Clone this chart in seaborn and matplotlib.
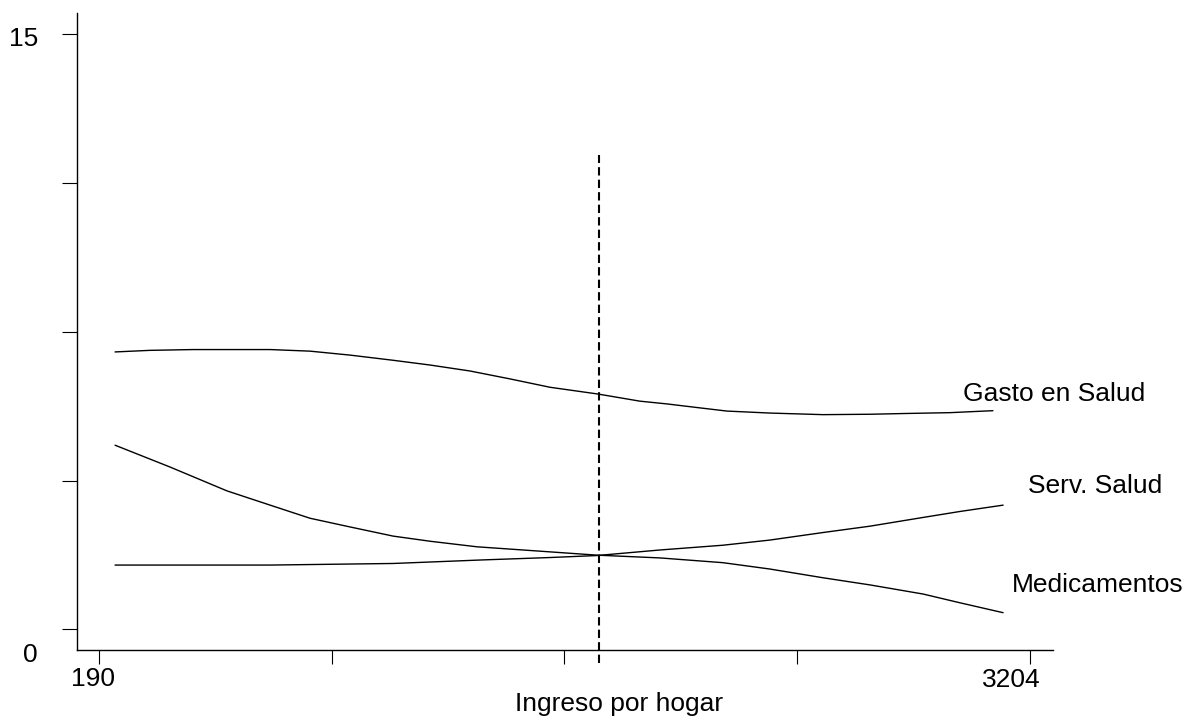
import pandas as pd
import matplotlib
matplotlib.use("Agg")
import matplotlib.pyplot as plt
import seaborn as sns

# ----------------------------
# 1. Data
# ----------------------------
gasto_x = [242, 355, 494, 744, 873, 1003, 1142, 1262, 1391, 1521, 1650, 1805,
           1941, 2029, 2136, 2223, 2362, 2534, 2686, 2806, 2945, 3084]
gasto_y = [6.99, 7.03, 7.05, 7.05, 7.01, 6.91, 6.78, 6.66, 6.51, 6.31, 6.10, 5.93,
           5.75, 5.68, 5.58, 5.50, 5.45, 5.41, 5.42, 5.44, 5.46, 5.51]

serv_x = [242, 744, 841, 1142, 1433, 1650, 1802, 2006, 2210, 2362, 2534, 2686,
          2858, 2977, 3117]
serv_y = [1.62, 1.62, 1.63, 1.66, 1.75, 1.81, 1.86, 2.00, 2.12, 2.25, 2.44, 2.60,
          2.82, 2.97, 3.13]

medic_x = [242, 420, 604, 744, 873, 1003, 1142, 1262, 1414, 1618, 1802, 2006,
           2210, 2362, 2534, 2686, 2858, 2977, 3117]
medic_y = [4.64, 4.09, 3.49, 3.13, 2.80, 2.58, 2.35, 2.22, 2.08, 1.97, 1.87, 1.80,
           1.68, 1.52, 1.30, 1.12, 0.89, 0.67, 0.42]

series_names = ["Gasto en Salud", "Serv. Salud", "Medicamentos"]

x_ticks = [190, 943.5, 1697, 2450.5, 3204]
y_ticks = [0, 3.75, 7.5, 11.25, 15]

corte_x = 1808          # dashed reference line
corte_y = (-0.85, 11.95)

df = pd.concat([
    pd.DataFrame({"ingreso": gasto_x, "valor": gasto_y, "serie": series_names[0]}),
    pd.DataFrame({"ingreso": serv_x, "valor": serv_y, "serie": series_names[1]}),
    pd.DataFrame({"ingreso": medic_x, "valor": medic_y, "serie": series_names[2]}),
])

# ----------------------------
# 2. Figure
# ----------------------------
sns.set_theme(style="white")
plt.rcParams["font.family"] = ["Liberation Sans", "DejaVu Sans"]

W, H = 1186, 716
fig = plt.figure(figsize=(W / 100, H / 100), dpi=100)
ax = fig.add_axes([76.7 / W, 1 - 650 / H, (1053 - 76.7) / W, (650 - 13) / H])

sns.lineplot(data=df, x="ingreso", y="valor", hue="serie",
             palette=["black"] * 3, linewidth=1.0, legend=False, ax=ax)

ax.plot([corte_x, corte_x], corte_y, color="black", linewidth=1.5,
        linestyle=(0, (4, 2)), clip_on=False)

ax.set_xlim(117.8, 3278.5)
ax.set_ylim(-0.52, 15.53)
ax.set_xticks(x_ticks)
ax.set_yticks(y_ticks)
ax.set_xticklabels([])
ax.set_yticklabels([])
ax.set_xlabel("")
ax.set_ylabel("")

for s in ["top", "right"]:
    ax.spines[s].set_visible(False)
for s in ["left", "bottom"]:
    ax.spines[s].set_color("black")
    ax.spines[s].set_linewidth(1.0)

ax.tick_params(axis="y", direction="out", length=11, width=0.8, color="black", left=True)
ax.tick_params(axis="x", direction="out", length=10, width=0.8, color="black", bottom=True)

# ----------------------------
# 3. Text
# ----------------------------
def ftext(px, py, s, ha="left"):
    fig.text(px / W, 1 - py / H, s, ha=ha, va="baseline", fontsize=19, color="black")

ftext(38, 46, "15", ha="right")
ftext(38, 662, "0", ha="right")
ftext(93, 686, "190", ha="center")
ftext(1011, 687, "3204", ha="center")
ftext(963, 401, "Gasto en Salud")
ftext(1028, 493, "Serv. Salud")
ftext(1012, 592, "Medicamentos")
ftext(619.5, 711, "Ingreso por hogar", ha="center")

fig.savefig("out.png", dpi=100)
